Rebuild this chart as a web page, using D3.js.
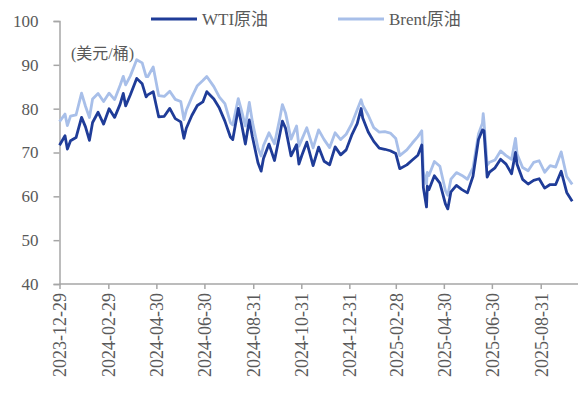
<!DOCTYPE html>
<html>
<head>
<meta charset="utf-8">
<script src="https://cdn.jsdelivr.net/npm/d3@7"></script>
<style>
  body { margin: 0; background: #fff; }
</style>
</head>
<body>
<div id="chart-area"></div>
<script>
var dates = ["2023-12-29","2024-01-05","2024-01-08","2024-01-12","2024-01-19","2024-01-26","2024-01-31","2024-02-05","2024-02-09","2024-02-16",
    "2024-02-23","2024-03-01","2024-03-08","2024-03-15","2024-03-19","2024-03-22","2024-03-28","2024-04-05","2024-04-12","2024-04-17",
    "2024-04-19","2024-04-26","2024-05-03","2024-05-10","2024-05-17","2024-05-24","2024-05-31","2024-06-04","2024-06-07","2024-06-14",
    "2024-06-21","2024-06-28","2024-07-03","2024-07-12","2024-07-19","2024-07-26","2024-08-02","2024-08-05","2024-08-12","2024-08-16",
    "2024-08-21","2024-08-26","2024-08-30","2024-09-06","2024-09-10","2024-09-13","2024-09-20","2024-09-27","2024-10-04","2024-10-07",
    "2024-10-11","2024-10-18","2024-10-25","2024-10-28","2024-11-01","2024-11-07","2024-11-15","2024-11-22","2024-11-29","2024-12-06",
    "2024-12-13","2024-12-20","2024-12-27","2025-01-03","2025-01-10","2025-01-15","2025-01-17","2025-01-24","2025-01-31","2025-02-07",
    "2025-02-14","2025-02-21","2025-02-28","2025-03-05","2025-03-14","2025-03-21","2025-03-28","2025-04-02","2025-04-04","2025-04-08",
    "2025-04-09","2025-04-11","2025-04-18","2025-04-25","2025-05-02","2025-05-05","2025-05-09","2025-05-16","2025-05-23","2025-05-30",
    "2025-06-06","2025-06-13","2025-06-18","2025-06-19","2025-06-20","2025-06-24","2025-06-27","2025-07-04","2025-07-11","2025-07-18",
    "2025-07-25","2025-07-30","2025-08-01","2025-08-08","2025-08-15","2025-08-22","2025-08-29","2025-09-05","2025-09-12","2025-09-19",
    "2025-09-26","2025-10-03","2025-10-10"];

var wti = [71.65,73.81,70.77,72.68,73.41,78.01,75.85,72.78,76.84,79.19,
    76.49,79.97,78.01,81.04,83.47,80.63,83.17,86.91,85.66,82.69,
    83.14,83.85,78.11,78.26,80.06,77.72,76.99,73.25,75.53,78.45,
    80.73,81.54,83.88,82.21,80.13,77.16,73.52,72.94,80.06,76.65,
    71.93,77.42,73.55,67.67,65.75,68.65,71.92,68.18,74.38,77.14,
    75.56,69.22,71.78,67.38,69.49,72.36,67.02,71.24,68.00,67.20,
    71.29,69.46,70.60,73.96,76.57,80.04,77.88,74.66,72.53,71.00,
    70.74,70.40,69.76,66.31,67.18,68.28,69.36,71.71,61.99,57.58,
    62.35,61.50,64.68,63.02,58.29,57.13,61.02,62.49,61.53,60.79,
    64.58,72.98,75.14,75.10,74.93,64.37,65.52,66.50,68.45,67.34,
    65.16,70.00,67.33,63.88,62.80,63.66,64.01,61.87,62.69,62.68,
    65.72,60.88,58.90];

var brent = [77.04,78.76,76.12,78.29,78.56,83.55,80.55,77.99,82.19,83.47,
    81.62,83.55,82.08,85.34,87.38,85.43,87.48,91.17,90.45,87.29,
    87.29,89.50,82.96,82.79,83.98,82.12,81.62,77.52,79.62,82.62,
    85.24,86.41,87.34,85.03,82.63,81.13,76.81,76.30,82.30,79.68,
    76.05,81.43,76.93,71.06,69.19,71.61,74.49,71.98,78.05,80.93,
    79.04,73.06,76.05,71.42,73.10,75.63,71.04,75.17,72.94,71.12,
    74.49,72.94,74.17,76.51,79.76,82.03,80.79,78.50,75.67,74.66,
    74.74,74.43,73.18,69.30,70.58,72.16,73.63,74.95,65.58,62.82,
    65.48,64.76,67.96,66.87,61.29,60.23,63.91,65.41,64.78,63.90,
    66.47,74.23,76.70,78.85,77.01,67.14,67.77,68.30,70.36,69.28,
    68.44,73.24,69.67,66.59,65.85,67.73,68.12,65.50,66.99,66.68,
    70.13,64.53,62.73];

var tickDates = ["2023-12-29","2024-02-29","2024-04-30","2024-06-30","2024-08-31","2024-10-31",
    "2024-12-31","2025-02-28","2025-04-30","2025-06-30","2025-08-31"];
var yTicks = [40, 50, 60, 70, 80, 90, 100];
var seriesNames = ["WTI原油", "Brent原油"];
var colours = ["#1f3c98", "#a8bfe9"];

var parse = d3.timeParse("%Y-%m-%d");
var fmt = d3.timeFormat("%Y-%m-%d");

var svg = d3.select("#chart-area")
    .append("svg")
    .attr("width", 585)
    .attr("height", 393);

var x = d3.scaleTime()
    .domain([parse("2023-12-29"), parse("2025-10-11")])
    .range([59.5, 573]);
var y = d3.scaleLinear()
    .domain([40, 100])
    .range([284, 21]);

// y axis
var yAxis = svg.append("g")
    .attr("transform", "translate(59.5,0)")
    .call(d3.axisLeft(y).tickValues(yTicks).tickSize(6).tickPadding(15));
yAxis.selectAll("text")
    .attr("fill", "#595959")
    .style("font-family", "Liberation Serif")
    .style("font-size", "17px");

// x axis
var xAxis = svg.append("g")
    .attr("transform", "translate(0,284)")
    .call(d3.axisBottom(x).tickValues(tickDates.map(parse)).tickFormat(fmt).tickSize(5));
xAxis.selectAll("text")
    .attr("fill", "#595959")
    .style("font-family", "Liberation Serif")
    .style("font-size", "18px")
    .attr("text-anchor", "end")
    .attr("transform", "rotate(-90)")
    .attr("x", -9)
    .attr("y", 0)
    .attr("dy", "0.35em");

svg.selectAll(".domain").attr("stroke", "#a6a6a6").attr("stroke-width", 1.5);
svg.selectAll(".tick line").attr("stroke", "#a6a6a6").attr("stroke-width", 1.5);
xAxis.select(".domain").attr("d", "M59.5,0H578");

// lines
var rows = dates.map((d, i) => {
    return { date: parse(d), wti: wti[i], brent: brent[i] };
});
var lineFor = (key) => {
    return d3.line()
        .x((d) => x(d.date))
        .y((d) => y(d[key]));
};

svg.append("path")
    .datum(rows)
    .attr("fill", "none")
    .attr("stroke", colours[1])
    .attr("stroke-width", 2.8)
    .attr("stroke-linejoin", "round")
    .attr("d", lineFor("brent"));

svg.append("path")
    .datum(rows)
    .attr("fill", "none")
    .attr("stroke", colours[0])
    .attr("stroke-width", 2.8)
    .attr("stroke-linejoin", "round")
    .attr("d", lineFor("wti"));

// unit label
svg.append("text")
    .attr("x", 71)
    .attr("y", 59)
    .attr("fill", "#595959")
    .style("font-family", "Liberation Serif, Noto Sans CJK SC")
    .style("font-size", "16px")
    .text("(美元/桶)");

// legend
var legendX = [151, 338];
seriesNames.forEach((name, i) => {
    svg.append("line")
        .attr("x1", legendX[i])
        .attr("x2", legendX[i] + 46)
        .attr("y1", 19)
        .attr("y2", 19)
        .attr("stroke", colours[i])
        .attr("stroke-width", 2.8);
    svg.append("text")
        .attr("x", legendX[i] + 51)
        .attr("y", 25)
        .attr("fill", "#595959")
        .style("font-family", "Liberation Serif, Noto Sans CJK SC")
        .style("font-size", "17px")
        .text(name);
});
</script>
</body>
</html>
